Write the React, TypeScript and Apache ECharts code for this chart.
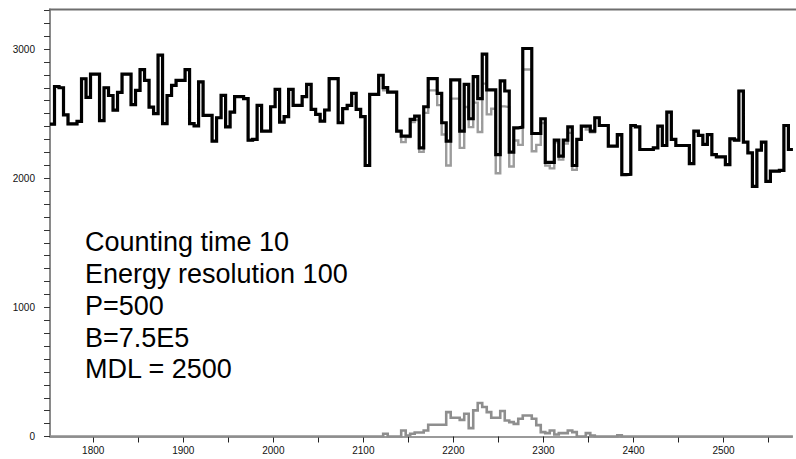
import React, { useEffect, useRef } from 'react';
import * as echarts from 'echarts';

const binStart = 1752;
const binWidth = 5;

const totalCounts = [
  2418, 2710, 2700, 2490, 2420, 2420, 2440, 2770, 2625, 2805,
  2805, 2445, 2700, 2640, 2527, 2665, 2805, 2805, 2570, 2680,
  2840, 2757, 2550, 2500, 2953, 2423, 2640, 2718, 2757, 2757,
  2840, 2423, 2405, 2745, 2486, 2486, 2287, 2468, 2641, 2398,
  2512, 2631, 2631, 2616, 2294, 2300, 2564, 2364, 2364, 2553,
  2688, 2434, 2476, 2688, 2564, 2564, 2631, 2727, 2533, 2494,
  2442, 2528, 2771, 2771, 2429, 2538, 2564, 2657, 2533, 2476,
  2098, 2649, 2649, 2797, 2701, 2667, 2667, 2364, 2326, 2326,
  2455, 2481, 2235, 2553, 2771, 2771, 2657, 2429, 2287, 2761,
  2761, 2364, 2727, 2460, 2787, 2616, 2960, 2683, 2683, 2183,
  2753, 2675, 2201, 2390, 2395, 3004, 3004, 2346, 2346, 2460,
  2123, 2123, 2294, 2170, 2294, 2398, 2098, 2300, 2403, 2403,
  2364, 2468, 2408, 2408, 2248, 2248, 2338, 2028, 2030, 2408,
  2398, 2222, 2222, 2222, 2235, 2403, 2253, 2512, 2300, 2253,
  2253, 2253, 2113, 2364, 2331, 2261, 2338, 2183, 2165, 2165,
  2105, 2305, 2294, 2675, 2279, 2196, 1937, 2217, 2279, 1976,
  2054, 2054, 2061, 2408, 2222,
];

const peakCounts = [
  0, 0, 0, 0, 0, 0, 0, 0, 0, 0,
  0, 0, 0, 0, 0, 0, 0, 0, 0, 0,
  0, 0, 0, 0, 0, 0, 0, 0, 0, 0,
  0, 0, 0, 0, 0, 0, 0, 0, 0, 0,
  0, 0, 0, 0, 0, 0, 0, 0, 0, 0,
  0, 0, 0, 0, 0, 0, 0, 0, 0, 0,
  0, 0, 0, 0, 0, 0, 0, 0, 0, 0,
  0, 0, 0, 0, 21, 0, 0, 0, 47, 8,
  21, 31, 31, 47, 91, 91, 91, 91, 189, 145,
  145, 129, 176, 65, 202, 259, 228, 189, 145, 145,
  197, 124, 111, 98, 137, 163, 163, 137, 88, 34,
  26, 47, 16, 26, 26, 47, 34, 0, 0, 26,
  8, 0, 0, 0, 0, 0, 10, 0, 0, 0,
  0, 0, 0, 0, 0, 0, 0, 0, 0, 0,
  0, 0, 0, 0, 0, 0, 0, 0, 0, 0,
  0, 0, 0, 0, 0, 0, 0, 0, 0, 0,
  0, 0, 0, 0, 0,
];

const xTickValues = [1800, 1850, 1900, 1950, 2000, 2050, 2100, 2150, 2200, 2250, 2300, 2350, 2400, 2450, 2500, 2550];
const xLabelValues = [1800, 1900, 2000, 2100, 2200, 2300, 2400, 2500];
const yTickValues = [
  0, 100, 200, 300, 400, 500, 600, 700, 800, 900,
  1000, 1100, 1200, 1300, 1400, 1500, 1600, 1700, 1800, 1900,
  2000, 2100, 2200, 2300, 2400, 2500, 2600, 2700, 2800, 2900,
  3000, 3100, 3200, 3300,
];
const yLabelValues = [0, 1000, 2000, 3000];

const annotationLines = [
  'Counting time 10',
  'Energy resolution 100',
  'P=500',
  'B=7.5E5',
  'MDL = 2500',
];

const FONT = '"Liberation Sans", Arial, Helvetica, sans-serif';

function toSteps(values: number[]): number[][] {
  const pts = values.map((v, i) => [binStart + i * binWidth, v]);
  pts.push([binStart + values.length * binWidth, values[values.length - 1]]);
  return pts;
}

export default function App() {
  const ref = useRef<HTMLDivElement>(null);

  useEffect(() => {
    if (!ref.current) return;
    const chart = echarts.init(ref.current, undefined, { renderer: 'svg' });
    const background = totalCounts.map((v, i) => v - peakCounts[i]);

    const stepLine = (name: string, values: number[], color: string, width: number, z: number) => ({
      name,
      type: 'line',
      step: 'end',
      symbol: 'none',
      data: toSteps(values),
      z,
      lineStyle: { color, width, join: 'miter', cap: 'butt' },
      emphasis: { disabled: true },
      silent: true,
    });

    const graphics: any[] = [
      {
        type: 'line',
        shape: { x1: 49, y1: 9.5, x2: 796, y2: 9.5 },
        style: { stroke: '#6e6e6e', lineWidth: 2.2 },
        z: 10,
      },
    ];
    annotationLines.forEach((t, k) => {
      graphics.push({
        type: 'text',
        x: 85,
        y: 242.1 + k * 31.8,
        style: {
          text: t,
          fill: '#000',
          font: `27px ${FONT}`,
          textAlign: 'left',
          textVerticalAlign: 'middle',
          verticalAlign: 'middle',
        },
        z: 20,
      });
    });

    const plain = (v: number) => String(v);

    chart.setOption({
      animation: false,
      backgroundColor: '#ffffff',
      grid: { left: 50, top: 9.5, width: 742, height: 427, containLabel: false },
      xAxis: {
        type: 'value',
        min: 1752,
        max: 2576,
        axisLine: { show: true, onZero: false, lineStyle: { color: '#9a9a9a', width: 2 } },
        axisTick: { show: true, customValues: xTickValues, length: 6, lineStyle: { color: '#222', width: 1 } },
        axisLabel: {
          show: true,
          customValues: xLabelValues,
          formatter: plain,
          margin: 9,
          fontSize: 10,
          fontFamily: FONT,
          color: '#111',
        },
        splitLine: { show: false },
      },
      yAxis: {
        type: 'value',
        min: 0,
        max: 3306,
        axisLine: { show: true, lineStyle: { color: '#8a8a8a', width: 2 } },
        axisTick: { show: true, customValues: yTickValues, length: 6, lineStyle: { color: '#333', width: 1 } },
        axisLabel: {
          show: true,
          customValues: yLabelValues,
          formatter: plain,
          margin: 15,
          fontSize: 10,
          fontFamily: FONT,
          color: '#111',
        },
        splitLine: { show: false },
      },
      series: [
        stepLine('background', background, '#9c9c9c', 2.4, 2),
        stepLine('total', totalCounts, '#000000', 3.2, 3),
        stepLine('peak', peakCounts, '#8e8e8e', 2.6, 5),
      ],
      graphic: graphics,
    });

    return () => chart.dispose();
  }, []);

  return (
    <div
      ref={ref}
      style={{ position: 'fixed', left: 0, top: 0, width: 796, height: 459, background: '#fff' }}
    />
  );
}
